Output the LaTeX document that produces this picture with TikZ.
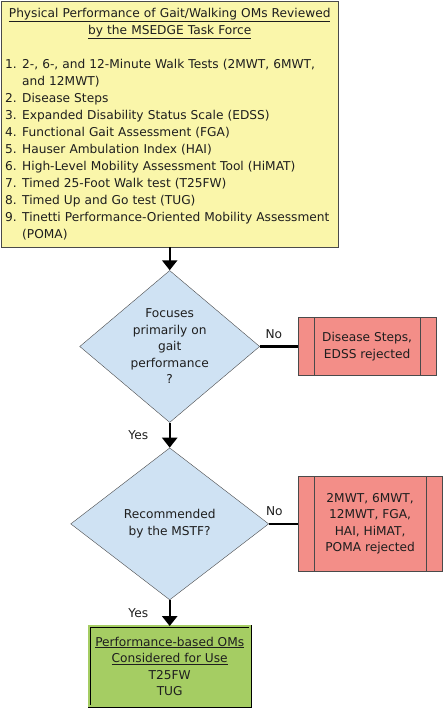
\documentclass[tikz,border=0pt]{standalone}
\usepackage{fontspec}
\setmainfont{DejaVu Sans}
\usepackage{xcolor}
\usepackage{tikz}
\usetikzlibrary{arrows.meta,positioning,shapes.geometric}
\definecolor{omInk}{HTML}{1E1E1E}
\definecolor{omEdge}{HTML}{4A4A4A}
\definecolor{omYellow}{HTML}{FAF6AA}
\definecolor{omBlue}{HTML}{CFE2F3}
\definecolor{omRed}{HTML}{F38E88}
\definecolor{omGreen}{HTML}{A5CD63}
\newcommand{\omitem}[2]{\par\hangindent=17pt\hangafter=1\noindent\makebox[17pt][l]{#1}#2\par}

\begin{document}
\begin{tikzpicture}[
  x=1pt, y=-1pt,
  font=\fontsize{12.2}{17}\selectfont, text=omInk,
  listbox/.style={draw=omEdge, fill=omYellow, text width=329pt, inner xsep=4pt, inner ysep=7pt, align=left, anchor=north west},
  decision/.style={diamond, draw=omEdge, fill=omBlue, align=center, inner sep=-3pt, shape aspect=1.2, font=\fontsize{12.2}{16.5}\selectfont},
  reject/.style={draw=omEdge, fill=omRed, align=center, font=\fontsize{12.2}{16.5}\selectfont,
    path picture={
      \draw[omEdge] ([xshift=16pt]path picture bounding box.north west) -- ([xshift=16pt]path picture bounding box.south west);
      \draw[omEdge] ([xshift=-16pt]path picture bounding box.north east) -- ([xshift=-16pt]path picture bounding box.south east);
    }},
  result/.style={draw=black, fill=omGreen, double=omGreen, double distance=2pt, align=center, minimum width=161pt, minimum height=80pt, font=\fontsize{12.2}{16.5}\selectfont},
  flow/.style={-{Triangle[length=10pt,width=15pt]}, line width=2.4pt, draw=black},
  branch/.style={line width=2.4pt, draw=black},
  answer/.style={font=\fontsize{12.2}{13}\selectfont}
]
  \useasboundingbox (0,0) rectangle (445,708);

  \node[listbox] (list) at (1,1) {%
    \centering\underline{Physical Performance of Gait/Walking OMs Reviewed}\\
    \underline{by the MSEDGE Task Force}\par
    \vspace{17pt}
    \raggedright
    \omitem{1.}{2-, 6-, and 12-Minute Walk Tests (2MWT, 6MWT,\newline and 12MWT)}
    \omitem{2.}{Disease Steps}
    \omitem{3.}{Expanded Disability Status Scale (EDSS)}
    \omitem{4.}{Functional Gait Assessment (FGA)}
    \omitem{5.}{Hauser Ambulation Index (HAI)}
    \omitem{6.}{High-Level Mobility Assessment Tool (HiMAT)}
    \omitem{7.}{Timed 25-Foot Walk test (T25FW)}
    \omitem{8.}{Timed Up and Go test (TUG)}
    \omitem{9.}{Tinetti Performance-Oriented Mobility Assessment\newline (POMA)}};

  \node[decision, below=23pt of list, minimum width=180pt, minimum height=152pt] (gait) {Focuses\\primarily on\\gait\\performance\\?};
  \node[decision, below=25pt of gait, minimum width=198pt, minimum height=152pt] (mstf) {Recommended\\by the MSTF?};
  \node[result, below=26pt of mstf] (kept) {\underline{Performance-based OMs}\\\underline{Considered for Use}\\T25FW\\TUG};

  \node[reject, right=38pt of gait, minimum width=138pt, minimum height=58pt] (dropA) {Disease Steps,\\EDSS rejected};
  \node[reject, right=29pt of mstf, minimum width=144pt, minimum height=95pt] (dropB) {2MWT, 6MWT,\\12MWT, FGA,\\HAI, HiMAT,\\POMA rejected};

  \draw[flow] (list) -- (gait);
  \draw[flow] (gait) -- node[answer, left=17pt]{Yes} (mstf);
  \draw[flow] (mstf) -- node[answer, left=17pt]{Yes} (kept);
  \draw[branch] (gait) -- node[answer, above=3pt, xshift=-5pt]{No} (dropA);
  \draw[branch] (mstf) -- node[answer, above=4pt, xshift=-9pt]{No} (dropB);
\end{tikzpicture}
\end{document}
